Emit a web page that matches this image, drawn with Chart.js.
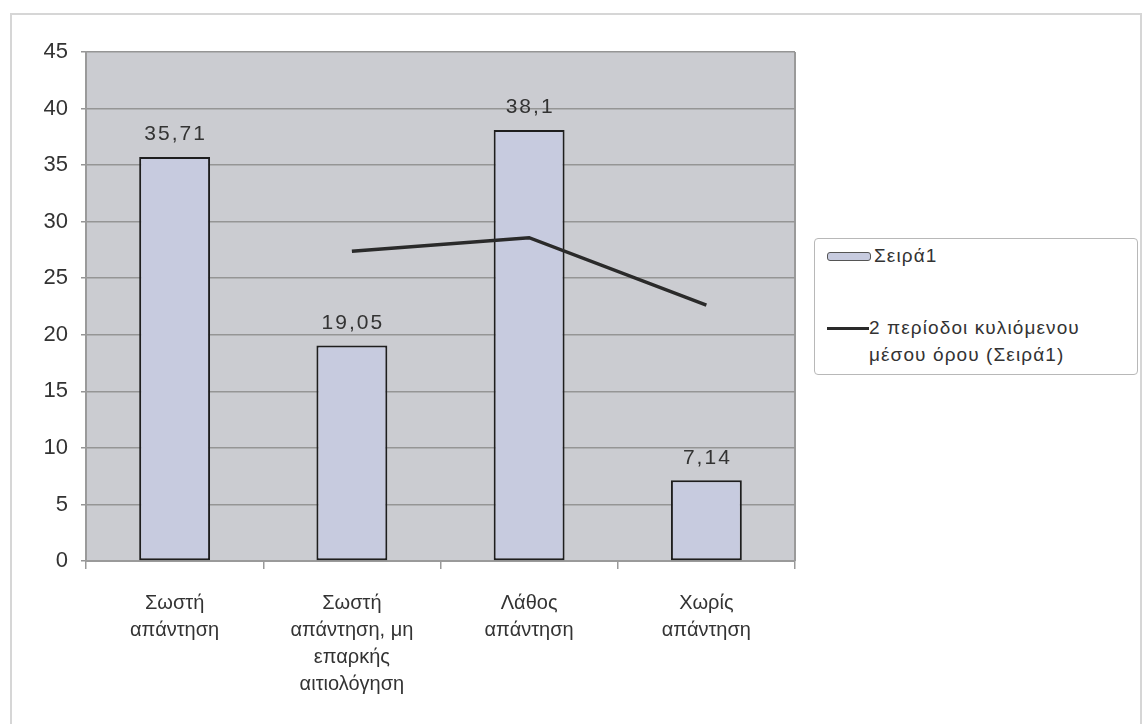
<!DOCTYPE html>
<html lang="el">
<head>
    <meta charset="UTF-8">
    <title>Σειρά1</title>
    <script src="https://cdn.jsdelivr.net/npm/chart.js"></script>
    <style>
        body { margin: 0; background: #fff; font-family: "Liberation Sans", Arial, sans-serif; }
        #wrap { position: relative; width: 1147px; height: 724px; }
        #frame { position: absolute; left: 10px; top: 13px; width: 1128px; height: 716px; border: 2px solid #d6d6d6; }
        #legend {
            position: absolute; left: 814px; top: 238px; width: 322px; height: 135px;
            border: 1.5px solid #b8b8b8; border-radius: 4px; background: #fff;
            color: #333; font-size: 19px; letter-spacing: 1.1px;
        }
        .item { position: absolute; left: 12px; }
        .sw { display: inline-block; width: 42px; vertical-align: middle; }
    </style>
</head>
<body>
<div id="wrap">
    <div id="frame"></div>
    <canvas id="chart" width="1147" height="724" style="position:absolute;left:0;top:0"></canvas>
    <div id="legend"></div>
</div>
<script>
    // data
    const categories = [
        ['Σωστή', 'απάντηση'],
        ['Σωστή', 'απάντηση, μη', 'επαρκής', 'αιτιολόγηση'],
        ['Λάθος', 'απάντηση'],
        ['Χωρίς', 'απάντηση']
    ];
    const seriesName = 'Σειρά1';
    const seriesValues = [35.71, 19.05, 38.1, 7.14];
    const avgName = '2 περίοδοι κυλιόμενου μέσου όρου (Σειρά1)';
    const avgValues = [null, 27.38, 28.58, 22.62];
    const yTicks = [0, 5, 10, 15, 20, 25, 30, 35, 40, 45];

    const FONT = '"Liberation Sans", Arial, sans-serif';

    // gray plot background + right border
    const plotBg = {
        id: 'plotBg',
        beforeDraw(chart) {
            const { ctx, chartArea: a } = chart;
            ctx.save();
            ctx.fillStyle = '#cbccd1';
            ctx.fillRect(a.left, a.top, a.right - a.left, a.bottom - a.top);
            ctx.strokeStyle = '#9a9a9a';
            ctx.lineWidth = 2;
            ctx.beginPath();
            ctx.moveTo(a.right, a.top);
            ctx.lineTo(a.right, a.bottom);
            ctx.stroke();
            ctx.restore();
        }
    };

    // value labels above the bars, decimal comma
    const valueLabels = {
        id: 'valueLabels',
        afterDatasetsDraw(chart) {
            const { ctx } = chart;
            const meta = chart.getDatasetMeta(0);
            ctx.save();
            ctx.font = '21px ' + FONT;
            ctx.letterSpacing = '2px';
            ctx.fillStyle = '#333';
            ctx.textAlign = 'center';
            ctx.textBaseline = 'bottom';
            meta.data.forEach((bar, i) => {
                const txt = String(seriesValues[i]).replace('.', ',');
                ctx.fillText(txt, bar.x + 1, bar.y - 12);
            });
            ctx.restore();
        }
    };

    const ctx = document.getElementById('chart').getContext('2d');
    const chart = new Chart(ctx, {
        data: {
            labels: categories,
            datasets: [{
                type: 'bar',
                label: seriesName,
                data: seriesValues,
                backgroundColor: '#c7cbdf',
                borderColor: '#1e1e1e',
                borderWidth: 2,
                borderSkipped: false,
                barPercentage: 0.4,
                categoryPercentage: 1,
                order: 2
            }, {
                type: 'line',
                label: avgName,
                data: avgValues,
                borderColor: '#2a2a2a',
                borderWidth: 3.5,
                pointRadius: 0,
                tension: 0,
                order: 1
            }]
        },
        options: {
            responsive: false,
            animation: false,
            layout: { padding: { left: 0, top: 52, right: 352, bottom: 0 } },
            plugins: {
                legend: { display: false },
                tooltip: { enabled: false }
            },
            scales: {
                x: {
                    offset: true,
                    grid: {
                        offset: true,
                        drawOnChartArea: false,
                        color: '#9a9a9a',
                        tickLength: 8,
                        lineWidth: 1.5
                    },
                    border: { color: '#9a9a9a', width: 2 },
                    ticks: {
                        color: '#333',
                        font: { family: FONT, size: 20, lineHeight: 1.35 },
                        padding: 21,
                        maxRotation: 0,
                        autoSkip: false
                    },
                    afterFit(scale) { scale.height = 163; }
                },
                y: {
                    min: 0,
                    max: 45,
                    afterBuildTicks(scale) { scale.ticks = yTicks.map(v => ({ value: v })); },
                    grid: {
                        color: '#959595',
                        lineWidth: 1.5,
                        tickLength: 5
                    },
                    border: { color: '#9a9a9a', width: 2 },
                    ticks: {
                        color: '#333',
                        font: { family: FONT, size: 22 },
                        padding: 13
                    },
                    afterFit(scale) { scale.width = 86; }
                }
            }
        },
        plugins: [plotBg, valueLabels]
    });

    // legend built from the datasets
    const legend = document.getElementById('legend');
    const ds = chart.data.datasets;
    legend.innerHTML =
        '<div class="item" style="top:6px"><span class="sw" style="height:7px;background:' + ds[0].backgroundColor +
        ';border:1.5px solid #555;border-radius:3px"></span><span style="margin-left:3px">' + ds[0].label + '</span></div>' +
        '<div class="item" style="top:75px;line-height:27px"><span class="sw" style="height:0;border-top:3px solid #2a2a2a;vertical-align:middle"></span>' +
        '<span>' + ds[1].label.replace(' μέσου', '<br><span style="margin-left:42px"></span>μέσου') + '</span></div>';
</script>
</body>
</html>
